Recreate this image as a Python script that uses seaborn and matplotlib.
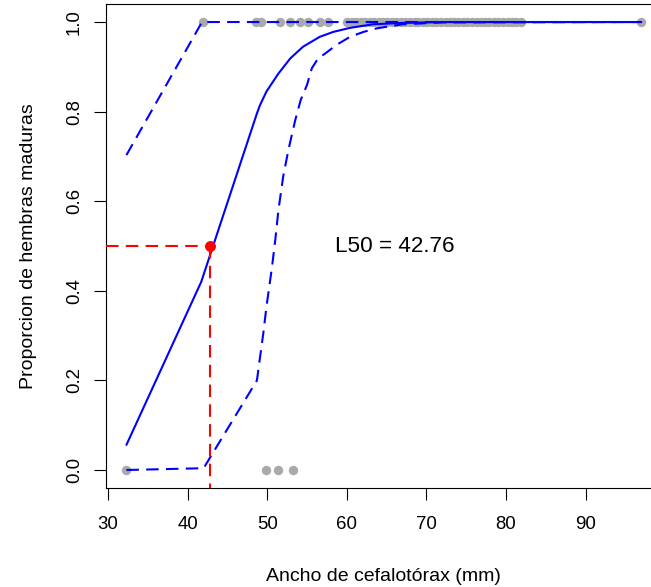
import matplotlib
matplotlib.use("Agg")
import matplotlib.pyplot as plt
import numpy as np
import pandas as pd
import seaborn as sns

# Carapace widths (mm) of mature (1) and immature (0) females
ancho_maduras = [41.9, 48.6, 49.2, 51.6, 52.9, 54.1, 55.1, 56.6, 57.6,
                 60.0, 60.6, 61.1, 61.8, 62.3, 62.9, 63.4, 64.0, 64.6, 65.1,
                 65.7, 66.2, 66.8, 67.3, 67.9, 68.5, 69.0, 69.6, 70.1, 70.7,
                 71.2, 71.8, 72.4, 72.9, 73.5, 74.0, 74.6, 75.1, 75.7, 76.3,
                 76.8, 77.4, 77.9, 78.5, 79.0, 79.6, 80.2, 80.7, 81.3, 81.9,
                 97.0]
ancho_inmaduras = [32.3, 49.8, 51.3, 53.2]

# Fitted proportion of mature females
curva_x = [32.3, 41.7, 48.7, 49.1, 49.9, 51.4, 52.9, 54.5, 56.6, 58.3,
           60.4, 63.3, 67.0, 72.0, 97.0]
curva_p = [0.056, 0.420, 0.796, 0.815, 0.845, 0.885, 0.919, 0.945, 0.967,
           0.978, 0.987, 0.995, 0.998, 1.000, 1.000]

# Upper and lower confidence limits
sup_x = [32.3, 41.8, 97.0]
sup_p = [0.703, 1.000, 1.000]
inf_x = [32.3, 42.0, 43.4, 48.7, 49.1, 49.5, 49.9, 50.6, 51.0, 51.4, 52.0,
         52.65, 53.5, 54.2, 55.0, 55.6, 56.4, 57.3, 58.7, 60.4, 62.1, 63.8,
         67.0, 72.0, 97.0]
inf_p = [0.000, 0.004, 0.045, 0.200, 0.253, 0.305, 0.365, 0.454, 0.513,
         0.580, 0.655, 0.714, 0.780, 0.826, 0.860, 0.897, 0.919, 0.930,
         0.949, 0.967, 0.978, 0.986, 0.995, 0.999, 1.000]

L50 = 42.76

x_ticks = [30, 40, 50, 60, 70, 80, 90]
y_ticks = [0.0, 0.2, 0.4, 0.6, 0.8, 1.0]

sns.set_style("white", {
    "axes.edgecolor": "black",
    "axes.labelcolor": "black",
    "text.color": "black",
    "xtick.bottom": True,
    "ytick.left": True,
})
plt.rcParams["font.family"] = ["Liberation Sans", "DejaVu Sans"]
plt.rcParams.update({
    "axes.linewidth": 0.8,
    "xtick.major.size": 8.5,
    "ytick.major.size": 8.5,
    "xtick.major.width": 0.8,
    "ytick.major.width": 0.8,
    "xtick.color": "black",
    "ytick.color": "black",
    "xtick.labelcolor": "black",
    "ytick.labelcolor": "black",
    "xtick.direction": "out",
    "ytick.direction": "out",
})

fig = plt.figure(figsize=(6.51, 5.87), dpi=100)
ax = fig.add_axes([0.1624, 0.1688, 0.8545, 0.8242])

puntos = pd.DataFrame({
    "ancho": ancho_maduras + ancho_inmaduras,
    "madura": [1] * len(ancho_maduras) + [0] * len(ancho_inmaduras),
})
sns.scatterplot(data=puntos, x="ancho", y="madura", color="#A9A9A9",
                s=46, linewidth=0, ax=ax, zorder=2)

dash = (0, (6, 3.5))
sns.lineplot(x=curva_x, y=curva_p, sort=False, estimator=None,
             color="#0000FF", linewidth=1.5, ax=ax, zorder=3)
for xs, ps in [(sup_x, sup_p), (inf_x, inf_p)]:
    sns.lineplot(x=xs, y=ps, sort=False, estimator=None,
                 color="#0000FF", linewidth=1.5, ax=ax, zorder=3)
    ax.lines[-1].set_linestyle(dash)

xlim = (29.7, 99.6)
ylim = (-0.04, 1.04)
ax.plot([xlim[0], L50], [0.5, 0.5], color="#FF0000", linewidth=1.5,
        linestyle=dash, zorder=4)
ax.plot([L50, L50], [0.5, ylim[0]], color="#FF0000", linewidth=1.5,
        linestyle=dash, zorder=4)
ax.scatter([L50], [0.5], s=62, color="#FF0000", linewidth=0, zorder=5)

ax.text(66, 0.5, "L50 = 42.76", fontsize=16.2, ha="center", va="center",
        color="black")

ax.set_xlim(*xlim)
ax.set_ylim(*ylim)
ax.set_xticks(x_ticks)
ax.set_yticks(y_ticks)
ax.set_xticklabels([str(t) for t in x_ticks], fontsize=13.4)
ax.set_yticklabels([f"{t:.1f}" for t in y_ticks], fontsize=13.4,
                   rotation=90, va="center")
ax.tick_params(axis="x", pad=12)
ax.tick_params(axis="y", pad=8)
ax.set_xlabel("Ancho de cefalotórax (mm)", fontsize=14, labelpad=25,
              color="black")
ax.set_ylabel("Proporcion de hembras maduras", fontsize=14, labelpad=21,
              color="black")
for s in ax.spines.values():
    s.set_visible(True)

fig.savefig("out.png", dpi=100)
